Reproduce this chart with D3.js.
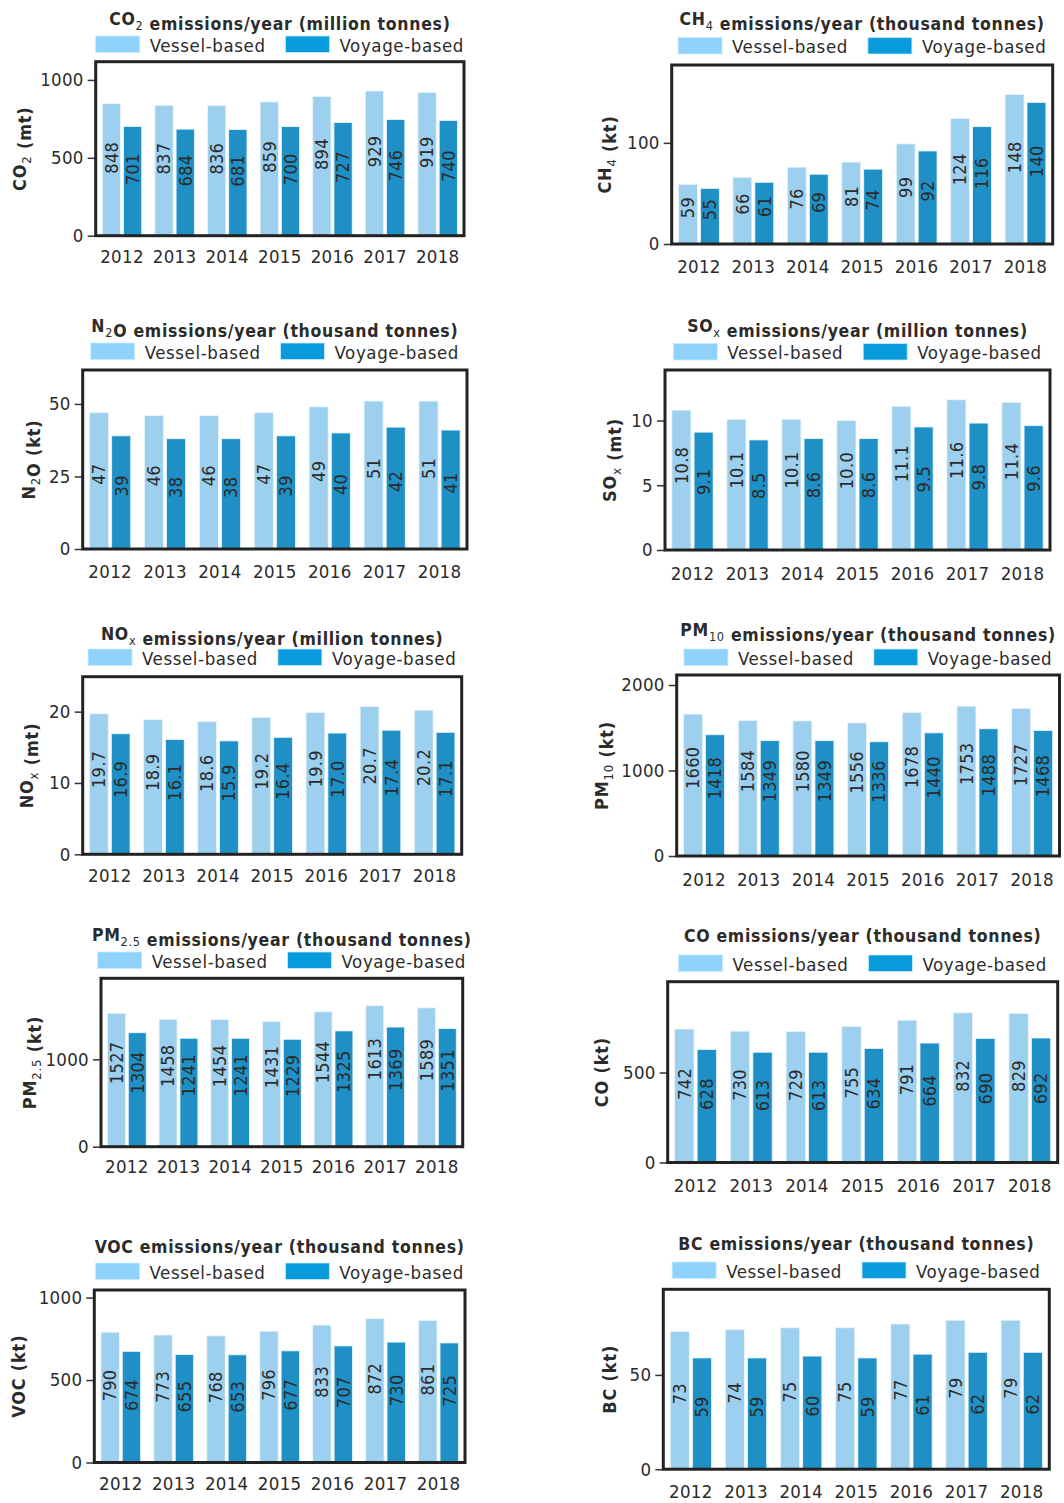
<!DOCTYPE html>
<html><head><meta charset="utf-8">
<script src="https://cdn.jsdelivr.net/npm/d3@7"></script>
<style>
body{margin:0;background:#fff}
svg{display:block}
text{font-family:'DejaVu Sans Condensed','DejaVu Sans',sans-serif;fill:#2b2b2b}
</style>
</head><body>
<svg id="c" width="1064" height="1503"></svg>
<script>
// ---------- data ----------
const years = ["2012","2013","2014","2015","2016","2017","2018"];
const seriesNames = ["Vessel-based","Voyage-based"];

const co2Vessel  = [848,837,836,859,894,929,919];
const co2Voyage  = [701,684,681,700,727,746,740];
const ch4Vessel  = [59,66,76,81,99,124,148];
const ch4Voyage  = [55,61,69,74,92,116,140];
const n2oVessel  = [47,46,46,47,49,51,51];
const n2oVoyage  = [39,38,38,39,40,42,41];
const soxVessel  = [10.8,10.1,10.1,10.0,11.1,11.6,11.4];
const soxVoyage  = [9.1,8.5,8.6,8.6,9.5,9.8,9.6];
const noxVessel  = [19.7,18.9,18.6,19.2,19.9,20.7,20.2];
const noxVoyage  = [16.9,16.1,15.9,16.4,17.0,17.4,17.1];
const pm10Vessel = [1660,1584,1580,1556,1678,1753,1727];
const pm10Voyage = [1418,1349,1349,1336,1440,1488,1468];
const pm25Vessel = [1527,1458,1454,1431,1544,1613,1589];
const pm25Voyage = [1304,1241,1241,1229,1325,1369,1351];
const coVessel   = [742,730,729,755,791,832,829];
const coVoyage   = [628,613,613,634,664,690,692];
const vocVessel  = [790,773,768,796,833,872,861];
const vocVoyage  = [674,655,653,677,707,730,725];
const bcVessel   = [73,74,75,75,77,79,79];
const bcVoyage   = [59,59,60,59,61,62,62];

const titles = [
  "CO_{2} emissions/year (million tonnes)",
  "CH_{4} emissions/year (thousand tonnes)",
  "N_{2}O emissions/year (thousand tonnes)",
  "SO_{x} emissions/year (million tonnes)",
  "NO_{x} emissions/year (million tonnes)",
  "PM_{10} emissions/year (thousand tonnes)",
  "PM_{2.5} emissions/year (thousand tonnes)",
  "CO emissions/year (thousand tonnes)",
  "VOC emissions/year (thousand tonnes)",
  "BC emissions/year (thousand tonnes)"
];
const yLabels = ["CO_{2} (mt)","CH_{4} (kt)","N_{2}O (kt)","SO_{x} (mt)","NO_{x} (mt)",
                 "PM_{10} (kt)","PM_{2.5} (kt)","CO (kt)","VOC (kt)","BC (kt)"];
const yTicks = [[0,500,1000],[0,100],[0,25,50],[0,5,10],[0,10,20],
                [0,1000,2000],[0,1000],[0,500],[0,500,1000],[0,50]];
const yMaxes = [1117,177,61.7,13.9,24.9,2117,1927,1005,1046,95.4];
const decimals = [0,0,0,1,1,0,0,0,0,0];
const vesselSeries = [co2Vessel,ch4Vessel,n2oVessel,soxVessel,noxVessel,pm10Vessel,pm25Vessel,coVessel,vocVessel,bcVessel];
const voyageSeries = [co2Voyage,ch4Voyage,n2oVoyage,soxVoyage,noxVoyage,pm10Voyage,pm25Voyage,coVoyage,vocVoyage,bcVoyage];

// ---------- layout (positions only) ----------
const layout = [
  {L:95.7, R:464,   T:61.7,  B:235.7,  title:25,   legend:36,    year:263,    ylab:20},
  {L:671.7,R:1052.7,T:65,    B:244,    title:25,   legend:37.5,  year:273,    ylab:605},
  {L:82.7, R:467,   T:370,   B:549,    title:332,  legend:343,   year:578,    ylab:29},
  {L:665,  R:1050,  T:370,   B:550,    title:332,  legend:343.5, year:580,    ylab:610},
  {L:82.7, R:461.7, T:676.7, B:854.3,  title:640,  legend:649,   year:881.5,  ylab:26.7},
  {L:676.7,R:1059.5,T:675,   B:856,    title:636,  legend:649,   year:886,    ylab:601.7},
  {L:101,  R:462.7, T:978.3, B:1146.7, title:941,  legend:952,   year:1173.3, ylab:29.3},
  {L:667.7,R:1057.7,T:981.7, B:1162.5, title:942,  legend:955,   year:1191.7, ylab:601.7},
  {L:94.3, R:465,   T:1290,  B:1462.5, title:1253, legend:1263,  year:1490,   ylab:18.3},
  {L:663.3,R:1049.3,T:1289.3,B:1469.2, title:1250, legend:1262,  year:1498.3, ylab:609.3}
];
const barColors = ["#9dcfee","#1f90c5"];
const legendColors = ["#8fd3fd","#0a9bdc"];

const svg = d3.select("#c");

function richText(sel, str, size){
  const parts = str.split(/_\{([^}]*)\}/);
  parts.forEach((p,i)=>{
    if(!p) return;
    if(i%2===1){
      sel.append("tspan").attr("font-size",size*0.72).attr("dy",size*0.28).attr("font-weight","normal").text(p);
      sel.append("tspan").attr("dy",-size*0.28).text("");
    } else {
      sel.append("tspan").text(p);
    }
  });
}

layout.forEach((lay,k)=>{
  const g = svg.append("g");
  const vessel = vesselSeries[k], voyage = voyageSeries[k];
  const x0 = d3.scaleBand().domain(years).range([lay.L, lay.R]).paddingInner(0.25).paddingOuter(0.125);
  const x1 = d3.scaleBand().domain(seriesNames).range([0, x0.bandwidth()]).paddingInner(0.14).paddingOuter(0);
  const y = d3.scaleLinear().domain([0, yMaxes[k]]).range([lay.B, lay.T]);
  const cx = (lay.L+lay.R)/2;

  // bars
  const rows = years.map((yr,i)=>({yr, vals:[{s:seriesNames[0],v:vessel[i],c:0},{s:seriesNames[1],v:voyage[i],c:1}]}));
  const grp = g.selectAll("g.grp").data(rows).join("g").attr("transform",d=>`translate(${x0(d.yr)},0)`);
  grp.selectAll("rect").data(d=>d.vals).join("rect")
    .attr("x",d=>x1(d.s)).attr("width",x1.bandwidth())
    .attr("y",d=>y(d.v)).attr("height",d=>y(0)-y(d.v))
    .attr("fill",d=>barColors[d.c]).attr("stroke","#e9f5fc").attr("stroke-width",0.8);
  grp.selectAll("text").data(d=>d.vals).join("text")
    .attr("transform",d=>`translate(${x1(d.s)+x1.bandwidth()/2},${y(d.v/2)+4}) rotate(-90)`)
    .attr("dy","0.35em").attr("text-anchor","start").attr("font-size",18).attr("letter-spacing",0.3)
    .attr("fill","#222")
    .text(d=>d.v.toFixed(decimals[k]));

  // y axis ticks
  const yAxis = d3.axisLeft(y).tickValues(yTicks[k]).tickSize(8).tickPadding(4).tickFormat(d3.format("d"));
  const ax = g.append("g").attr("transform",`translate(${lay.L},0)`).call(yAxis);
  ax.select(".domain").remove();
  ax.selectAll(".tick line").attr("stroke","#333").attr("stroke-width",1.5);
  ax.selectAll(".tick text").attr("font-size",18.5).attr("letter-spacing",0.3).attr("fill","#2b2b2b").attr("font-family",null);

  // x axis labels
  const xAxis = d3.axisBottom(x0).tickSize(0).tickPadding(0);
  const xa = g.append("g").attr("transform",`translate(0,${lay.year})`).call(xAxis);
  xa.select(".domain").remove();
  xa.selectAll(".tick text").attr("font-size",18.5).attr("letter-spacing",0.3).attr("fill","#2b2b2b").attr("dy",0).attr("y",0).attr("font-family",null);

  // frame
  g.append("rect").attr("x",lay.L).attr("y",lay.T).attr("width",lay.R-lay.L).attr("height",lay.B-lay.T)
    .attr("fill","none").attr("stroke","#222").attr("stroke-width",3);

  // title
  const t = g.append("text").attr("x",cx).attr("y",lay.title).attr("text-anchor","middle")
    .attr("font-size",17.5).attr("font-weight","bold").attr("letter-spacing",0.7);
  richText(t, titles[k], 17.5);

  // y label
  const yl = g.append("text").attr("transform",`translate(${lay.ylab},${(lay.T+lay.B)/2}) rotate(-90)`)
    .attr("text-anchor","middle").attr("dy","0.35em").attr("font-size",18).attr("font-weight","bold").attr("letter-spacing",0.8);
  richText(yl, yLabels[k], 18);

  // legend
  const lg = g.append("g");
  let xPos = 0;
  seriesNames.forEach((s,i)=>{
    if(i>0) xPos += 20;
    lg.append("rect").attr("x",xPos).attr("y",lay.legend).attr("width",44).attr("height",16.5)
      .attr("fill",legendColors[i]).attr("stroke","#c8ecff").attr("stroke-width",0.8);
    xPos += 54;
    const tt = lg.append("text").attr("x",xPos).attr("y",lay.legend+15.5).attr("font-size",18.5)
      .attr("letter-spacing",0.6).text(s);
    xPos += tt.node().getComputedTextLength();
  });
  lg.attr("transform",`translate(${cx - xPos/2},0)`);
});
</script>
</body></html>
